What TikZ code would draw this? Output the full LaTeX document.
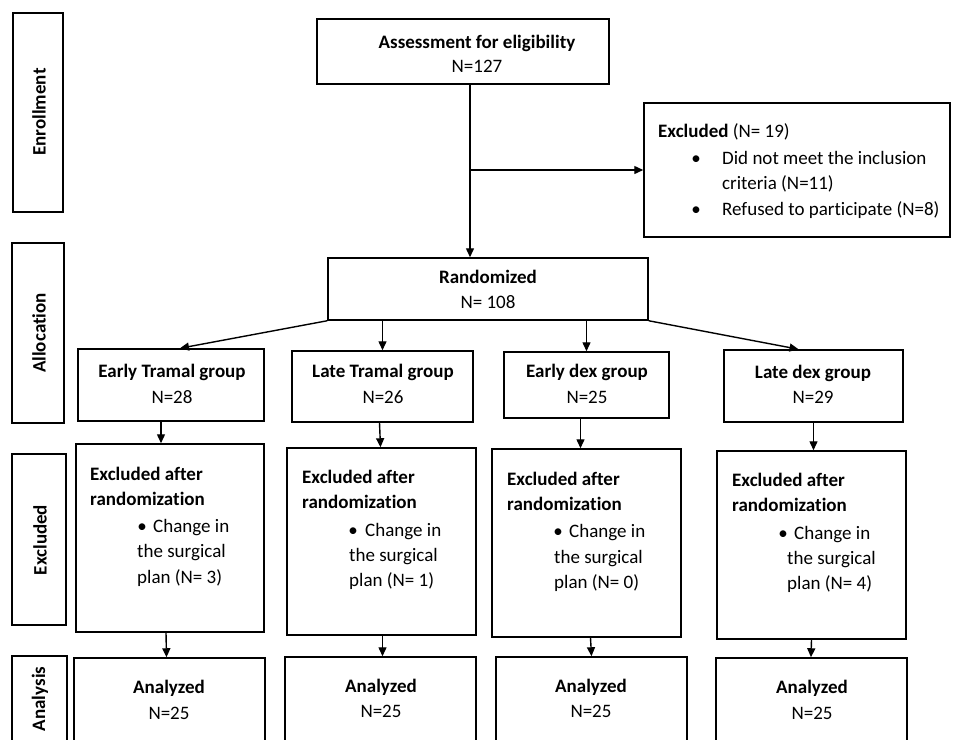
\documentclass[tikz,border=0pt]{standalone}
\usepackage{fontspec}
\setmainfont{Carlito}[Ligatures=NoCommon]
\usetikzlibrary{arrows.meta,calc,fit}
\tikzset{
  box/.style={draw=black, line width=1.5pt, inner sep=0pt, fill=white},
  arr/.style={line width=1.4pt, -{Triangle[length=9pt,width=8pt]}},
  lbl/.style={font=\fontsize{19}{25}\selectfont\bfseries, rotate=90, inner sep=0pt},
  t/.style={font=\fontsize{19}{25}\selectfont, anchor=base, inner sep=0pt},
  tl/.style={font=\fontsize{19}{25}\selectfont, anchor=base west, inner sep=0pt},
  tb/.style={font=\fontsize{19}{25}\selectfont\bfseries, anchor=base, inner sep=0pt},
  tbl/.style={font=\fontsize{19}{25}\selectfont\bfseries, anchor=base west, inner sep=0pt},
}
\newcommand\mybox[5]{\node[box, fit={(#2,#3) (#4,#5)}] (#1) {};}
\begin{document}
\begin{tikzpicture}[x=1pt,y=-1pt]
\useasboundingbox (0,0) rectangle (953,739);
\clip (0,0) rectangle (953,739);
\fill[white] (0,0) rectangle (953,739);
% side labels
\mybox{enr}{13}{13}{63}{212}
\mybox{alo}{12}{243}{64}{423}
\mybox{exl}{12}{454}{66}{625}
\mybox{anl}{12}{656}{67}{790}
\node[lbl] (enrT) at (39,112) {Enrollment};
\node[lbl] (aloT) at (39,333) {Allocation};
\node[lbl] (exlT) at (40,540) {Excluded};
\node[lbl] (anlT) at (40,699) {Analysis};
% main boxes
\mybox{assess}{317}{19}{609}{84}
\mybox{exc}{644}{103}{950}{237}
\mybox{rand}{328}{258}{648}{320}
\mybox{g1}{78}{349}{264}{421}
\mybox{g2}{292}{351}{473}{422}
\mybox{g3}{504}{352}{669}{418}
\mybox{g4}{724}{350}{903}{422}
\mybox{e1}{76}{444}{264}{632}
\mybox{e2}{287}{448}{476}{635}
\mybox{e3}{492}{449}{681}{637}
\mybox{e4}{717}{451}{906}{639}
\mybox{a1}{74}{658}{265}{790}
\mybox{a2}{285}{657}{476}{790}
\mybox{a3}{496}{657}{687}{790}
\mybox{a4}{716}{658}{907}{790}
% texts
\node[tb] (assT1) at (477,48) {Assessment for eligibility};
\node[t] (assT2) at (477,72) {N=127};
\node[tbl] (excT1) at (658,137) {Excluded \mdseries(N= 19)};
\node[t] (excB1) at (696,164) {•};
\node[tl] (excT2) at (722,164) {Did not meet the inclusion};
\node[tl] (excT3) at (722,189) {criteria (N=11)};
\node[t] (excB2) at (696,215) {•};
\node[tl] (excT4) at (722,215) {Refused to participate (N=8)};
\node[tb] (randT1) at (488,283) {Randomized};
\node[t] (randT2) at (488,308) {N= 108};
\node[tb] (g1T1) at (172,377) {Early Tramal group};
\node[t] (g1T2) at (172,403) {N=28};
\node[tb] (g2T1) at (383,377) {Late Tramal group};
\node[t] (g2T2) at (383,403) {N=26};
\node[tb] (g3T1) at (587,377) {Early dex group};
\node[t] (g3T2) at (587,403) {N=25};
\node[tb] (g4T1) at (813,378) {Late dex group};
\node[t] (g4T2) at (813,403) {N=29};
% excluded after randomization
\node[tbl] (e1T1) at (90,480) {Excluded after};
\node[tbl] (e1T2) at (90,505) {randomization};
\node[t] (e1B) at (142,532) {•};
\node[tl] (e1T3) at (153,532) {Change in};
\node[tl] (e1T4) at (137,557) {the surgical};
\node[tl] (e1T5) at (137,583) {plan (N= 3)};
\node[tbl] (e2T1) at (302,483) {Excluded after};
\node[tbl] (e2T2) at (302,508) {randomization};
\node[t] (e2B) at (353,536) {•};
\node[tl] (e2T3) at (365,536) {Change in};
\node[tl] (e2T4) at (349,561) {the surgical};
\node[tl] (e2T5) at (349,586) {plan (N= 1)};
\node[tbl] (e3T1) at (507,485) {Excluded after};
\node[tbl] (e3T2) at (507,510) {randomization};
\node[t] (e3B) at (558,537) {•};
\node[tl] (e3T3) at (569,537) {Change in};
\node[tl] (e3T4) at (554,563) {the surgical};
\node[tl] (e3T5) at (554,588) {plan (N= 0)};
\node[tbl] (e4T1) at (732,486) {Excluded after};
\node[tbl] (e4T2) at (732,511) {randomization};
\node[t] (e4B) at (783,539) {•};
\node[tl] (e4T3) at (794,539) {Change in};
\node[tl] (e4T4) at (787,564) {the surgical};
\node[tl] (e4T5) at (787,589) {plan (N= 4)};
% analysis
\node[tb] (a1T1) at (169,693) {Analyzed};
\node[t] (a1T2) at (169,719) {N=25};
\node[tb] (a2T1) at (381,692) {Analyzed};
\node[t] (a2T2) at (381,717) {N=25};
\node[tb] (a3T1) at (591,692) {Analyzed};
\node[t] (a3T2) at (591,717) {N=25};
\node[tb] (a4T1) at (812,693) {Analyzed};
\node[t] (a4T2) at (812,719) {N=25};
% connectors
\coordinate (ax) at (470,0);
\draw[arr] (assess.south -| ax) -- (rand.north -| ax);
\draw[arr] (ax |- exc.west) -- (exc.west);
\draw[arr] (rand.south west) -- ($(g1.north)+(9,0)$);
\draw[arr] (rand.south -| g2.north) -- (g2.north);
\draw[arr] (rand.south -| g3.north) -- (g3.north);
\draw[arr] (rand.south east) -- ($(g4.north)+(-15,0)$);
\draw[arr] ($(g1.south)+(-10,0)$) -- ($(e1.north)+(-9,0)$);
\draw[arr] ($(g2.south)+(-3,0)$) -- ($(e2.north)+(-1,0)$);
\draw[arr] ($(g3.south)+(-6,0)$) -- ($(e3.north)+(-6,0)$);
\draw[arr] (g4.south) -- ($(e4.north)+(2,0)$);
\draw[arr] ($(e1.south)+(-4,0)$) -- ($(a1.north)+(-3,0)$);
\draw[arr] ($(e2.south)+(1,0)$) -- ($(a2.north)+(2,0)$);
\draw[arr] ($(e3.south)+(4,0)$) -- ($(a3.north)+(0,0)$);
\draw[arr] (e4.south) -- ($(a4.north)+(-0.5,0)$);
\end{tikzpicture}
\end{document}
